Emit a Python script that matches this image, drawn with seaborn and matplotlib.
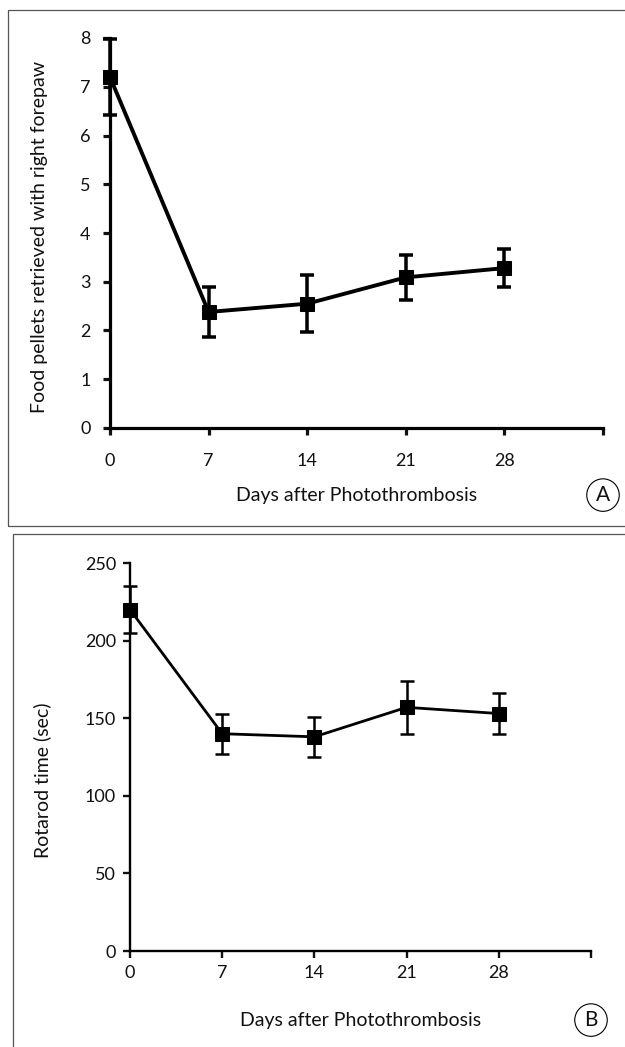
import matplotlib
matplotlib.use("Agg")
import matplotlib.pyplot as plt
import numpy as np
import pandas as pd
import seaborn as sns
from matplotlib.patches import Rectangle

DAYS = [0, 7, 14, 21, 28]
PELLETS_MEAN = [7.2, 2.38, 2.55, 3.09, 3.28]
PELLETS_ERR = [0.78, 0.52, 0.58, 0.46, 0.39]
ROTAROD_MEAN = [220, 140, 138, 157, 153]
ROTAROD_ERR = [15, 13, 13, 17, 13]

X_TICKS = [0, 7, 14, 21, 28, 35]
X_TICK_LABELS = ["0", "7", "14", "21", "28", ""]
XLABEL = "Days after Photothrombosis"

sns.set_theme(style="white")
plt.rcParams.update(
    {
        "font.family": ["Lato", "DejaVu Sans"],
        "font.size": 13,
        "text.color": "#111111",
        "axes.labelcolor": "#111111",
        "xtick.color": "#111111",
        "ytick.color": "#111111",
    }
)

W, H = 625, 1047
fig = plt.figure(figsize=(W / 100, H / 100), dpi=100)


def px_rect(left, right, top, bottom):
    return [left / W, 1 - bottom / H, (right - left) / W, (bottom - top) / H]


def draw_panel(ax, means, errs, yticks, ylabel, letter, lw, spine_lw, tick_pad_x, tick_pad_y,
               xlabel_y, ylabel_pos):
    df = pd.DataFrame({"day": DAYS, "value": means})
    ax.errorbar(DAYS, means, yerr=errs, fmt="none", ecolor="black", elinewidth=lw * 0.9,
                capsize=5, capthick=lw * 0.9, zorder=3, clip_on=False)
    sns.lineplot(data=df, x="day", y="value", ax=ax, color="black", linewidth=lw,
                 marker="s", markersize=10, markeredgecolor="black", zorder=4, clip_on=False)
    ax.set_xlim(0, 35)
    ax.set_ylim(yticks[0], yticks[-1])
    ax.set_xticks(X_TICKS, X_TICK_LABELS)
    ax.set_yticks(yticks, [str(t) for t in yticks])
    ax.spines[["top", "right"]].set_visible(False)
    for side in ["left", "bottom"]:
        ax.spines[side].set_linewidth(spine_lw)
        ax.spines[side].set_color("black")
    ax.tick_params(axis="x", direction="out", length=5, width=spine_lw, pad=tick_pad_x,
                   bottom=True, labelsize=13)
    ax.tick_params(axis="y", direction="out", length=5, width=spine_lw, pad=tick_pad_y,
                   left=True, labelsize=13)
    ax.grid(False)
    ax.set_xlabel(XLABEL, fontsize=14)
    ax.xaxis.set_label_coords(0.5, xlabel_y)
    ax.xaxis.label.set_va("center")
    ax.set_ylabel(ylabel, fontsize=14)
    ax.yaxis.set_label_coords(*ylabel_pos)
    ax.yaxis.label.set_va("center")
    ax.text(1.0, xlabel_y, letter, transform=ax.transAxes, ha="center", va="center",
            fontsize=15, bbox={"boxstyle": "circle,pad=0.3", "facecolor": "white",
                               "edgecolor": "black", "linewidth": 0.8})
    ax.set_facecolor("none")


# panel frames
fig.patches.append(Rectangle((8 / W, 1 - 526 / H), 1.0, 516 / H, transform=fig.transFigure,
                             fill=False, edgecolor="#555555", linewidth=0.9))
fig.patches.append(Rectangle((13 / W, -0.01), 1.0, 1 - 534 / H + 0.01, transform=fig.transFigure,
                             fill=False, edgecolor="#555555", linewidth=0.9))

ax_a = fig.add_axes(px_rect(110, 603, 38, 428))
draw_panel(ax_a, PELLETS_MEAN, PELLETS_ERR, [0, 1, 2, 3, 4, 5, 6, 7, 8],
           "Food pellets retrieved with right forepaw", "A", lw=2.8, spine_lw=2.3,
           tick_pad_x=13, tick_pad_y=9, xlabel_y=-0.172, ylabel_pos=(-0.142, 0.49))

ax_b = fig.add_axes(px_rect(130, 591, 563, 951))
draw_panel(ax_b, ROTAROD_MEAN, ROTAROD_ERR, [0, 50, 100, 150, 200, 250],
           "Rotarod time (sec)", "B", lw=2.0, spine_lw=1.7,
           tick_pad_x=5, tick_pad_y=5, xlabel_y=-0.178, ylabel_pos=(-0.191, 0.44))

fig.savefig("out.png", dpi=100)
